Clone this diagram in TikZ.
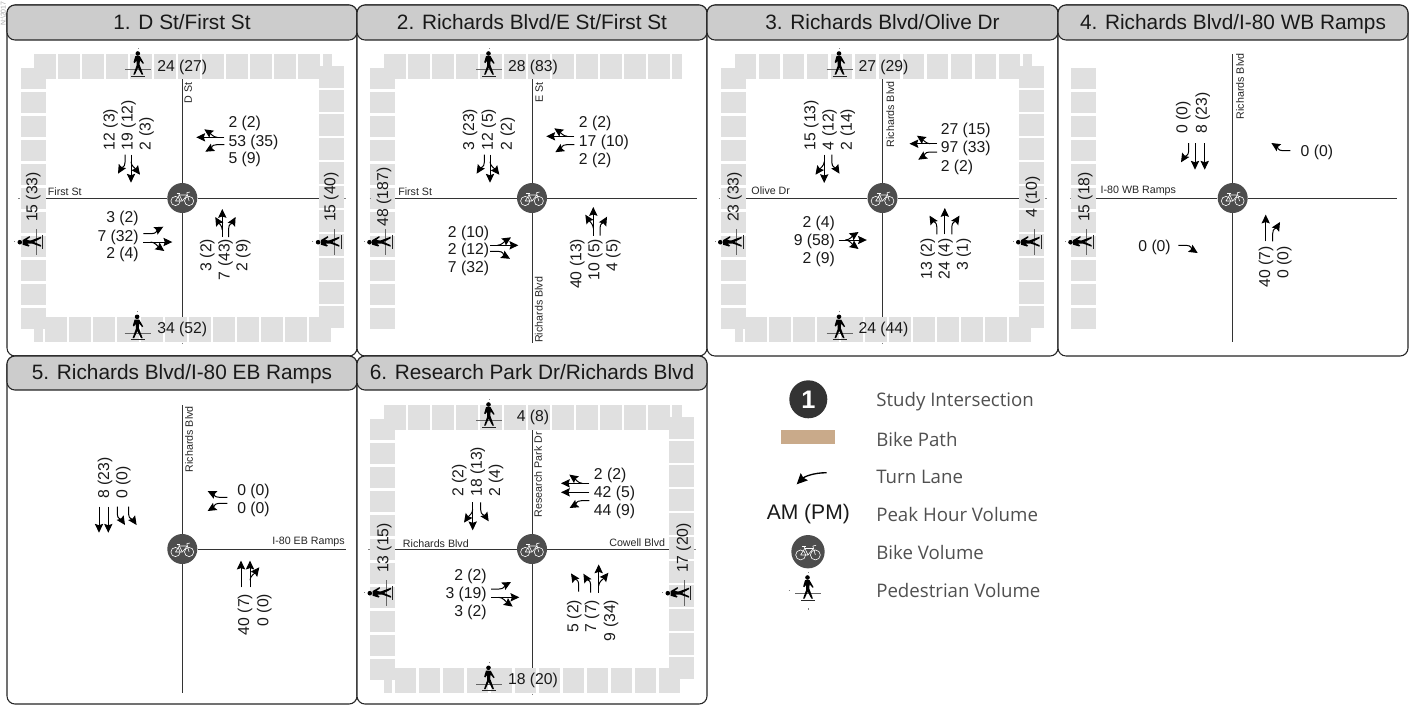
\documentclass[tikz,border=0pt]{standalone}
\usepackage{fontspec}
\setmainfont{Liberation Sans}
\newfontfamily\legfont{Open Sans}
\usetikzlibrary{arrows.meta}
\definecolor{hdr}{HTML}{CCCCCC}
\definecolor{tile}{HTML}{E0E0E0}
\definecolor{bikec}{HTML}{4D4D4D}
\definecolor{pathc}{HTML}{C9AA8A}
\definecolor{legc}{HTML}{505050}
\newcount\nodeno
\tikzset{
 x=0.75pt,y=-0.75pt,
 box/.style={draw=black!85,line width=0.8pt,rounded corners=6pt},
 headbox/.style={box,fill=hdr},
 title/.style={inner sep=0pt,font=\fontsize{15.6}{17}\selectfont,text=black!90,text height=11pt,text depth=0.6pt},
 vol/.style={inner sep=0pt,font=\fontsize{11.8}{13}\selectfont,text=black!90},
 road/.style={inner sep=0pt,font=\fontsize{8}{9}\selectfont,text=black!85},
 vl/.style={vol,anchor=west},
 vr/.style={vol,anchor=east},
 vu/.style={vol,rotate=90,anchor=west},
 vd/.style={vol,rotate=90,anchor=east},
 vc/.style={vol,rotate=90},
 rl/.style={road,anchor=west},
 re/.style={road,anchor=east},
 ru/.style={road,rotate=90,anchor=west},
 rd/.style={road,rotate=90,anchor=east},
 ar/.style={line width=0.75pt,black,-{Stealth[length=6.6pt,width=6.2pt,inset=1pt]}},
 rdl/.style={line width=0.75pt,black!80},
 tck/.style={line width=0.4pt,black!50},
 biked/.style={circle,fill=bikec,inner sep=0pt,minimum size=22.5pt},
 leg/.style={anchor=west,inner sep=0pt,font=\legfont\fontsize{14}{16}\selectfont,text=legc},
}
\newcommand\Tx[4]{\global\advance\nodeno 1 \node[#1] (t\the\nodeno) at (#2,#3) {#4};}
\newcommand\LnS[4]{\draw[ar,shift={(#1,#2)},rotate=#3] (0,0) -- (0,#4);}
\newcommand\LnC[5]{\draw[ar,shift={(#1,#2)},rotate=#3] (0,0) -- (0,#5*0.4) .. controls (0,#5*0.68) and (#4*0.5,#5*0.68) .. (#4,#5);}
\newcommand\LnB[5]{\draw[ar,shift={(#1,#2)},rotate=#3] (0,#5*0.35) .. controls (0,#5*0.55) and (#4*0.5,#5*0.7) .. (#4,#5);}
\newcommand\panelbox[6]{%
 \draw[box,fill=white] (#1,#3) rectangle (#2,#5);
 \draw[headbox] (#1,#3) rectangle (#2,#4);
 \global\advance\nodeno 1
 \node[title] (t\the\nodeno) at ({(#1+#2)/2},{(#3+#4)/2}) {#6};}
\newcommand\tilesT{\fill[tile] (-148,-144.3) rectangle (-126.3,-119.3);
 \foreach \i in {1,...,11}{\fill[tile] ({-148+24*\i},-144.3) rectangle ({-126.3+24*\i},-119.3);}
 \fill[tile] (140.3,-144.3) rectangle (149.5,-119.3);}
\newcommand\tilesB{\foreach \i in {0,...,11}{\fill[tile] ({-137.3+24*\i},118.7) rectangle ({-115.6+24*\i},144);}
 \fill[tile] (-148,130) rectangle (-139.7,144);}
\newcommand\tilesL{\foreach \i in {0,...,10}{\fill[tile] (-161.7,{-130.3+24*\i}) rectangle (-136.7,{-108.6+24*\i});}}
\newcommand\tilesR{\foreach \i in {0,...,10}{\fill[tile] (136.7,{-131.7+24*\i}) rectangle (161.7,{-110+24*\i});}}
\newcommand\bikeglyph[1]{\begin{scope}[scale=#1,line width=0.45pt,white]
 \draw (-6.8,3) circle[radius=4.6];
 \draw (6.8,3) circle[radius=4.6];
 \draw[line join=round] (-6.8,3) -- (-3,-3) -- (5,-3) -- (0,3) -- cycle;
 \draw (-3.8,-4.8) -- (0,3);
 \draw (-5.6,-4.8) -- (-2,-4.8);
 \draw (6.8,3) -- (4.5,-5.2) -- (7.5,-6);
\end{scope}}
\newcommand\pedicon[3]{\begin{scope}[shift={(#1,#2)},rotate=#3]
 \draw[line width=0.5pt,black!60] (-13,0) -- (13,0);
 \draw[line width=0.5pt,black!85] (-7,6.6) -- (7,6.6);
 \draw[tck] (0,-21) -- (0,-22);
 \fill[black] (-0.5,-16.2) circle[radius=2.3];
 \fill[black] (-3,-13.5) -- (1.6,-13.5) -- (5.6,-6.5) -- (4.5,-6) -- (1.6,-9.5) -- (1.3,-5) -- (5,5) -- (3.4,5) -- (-0.3,-2) -- (-3.4,5) -- (-5,5) -- (-1.8,-4) -- (-1.8,-9) -- (-3.8,-6.5) -- (-4.8,-7.5) -- cycle;
\end{scope}}
\newcommand\hub[1]{\node[biked] (#1) at (0,0) {}; \bikeglyph{1}}
\begin{document}
\begin{tikzpicture}
\useasboundingbox (0,0) rectangle (1416,704);
\fill[white] (0,0) rectangle (1416,704);
\Tx{font=\fontsize{5.2}{6}\selectfont,text=black!35,rotate=90,anchor=west,inner sep=0pt}{3.2}{26}{N:\textbackslash 2017}
\panelbox{7}{357}{5}{40}{356}{1. D St/First St}
\panelbox{357}{707}{5}{40}{356}{2. Richards Blvd/E St/First St}
\panelbox{707}{1058}{5}{40}{356}{3. Richards Blvd/Olive Dr}
\panelbox{1058}{1408}{5}{40}{356}{4. Richards Blvd/I-80 WB Ramps}
\panelbox{7}{357}{356}{390}{704}{5. Richards Blvd/I-80 EB Ramps}
\panelbox{357}{707}{356}{390}{704}{6. Research Park Dr/Richards Blvd}

% ---------- 1
\begin{scope}[shift={(182.3,198)}]
\tilesT \tilesB \tilesL \tilesR
\hub{bA}
\coordinate (nA) at (0,-119.3); \coordinate (sA) at (0,118.7); \coordinate (wA) at (-136.7,0); \coordinate (eA) at (136.7,0);
\draw[rdl] (bA) -- (nA); \draw[rdl] (bA) -- (sA); \draw[rdl] (bA) -- (wA); \draw[rdl] (bA) -- (eA);
\draw[tck] (-164,0) -- (-162.5,0); \draw[tck] (162,0) -- (164,0); \draw[tck] (0,144.5) -- (0,146);
\Tx{rd}{6}{-116}{D St} \Tx{rl}{-134.7}{-6}{First St}
\pedicon{-44}{-128.3}{0} \Tx{vol}{0}{-131}{24 (27)}
\pedicon{-44.7}{135}{0} \Tx{vol}{0}{131}{34 (52)}
\pedicon{-146.3}{43.7}{90} \Tx{vc}{-149}{-1}{15 (33)}
\pedicon{152}{43.7}{90} \Tx{vc}{149}{-1}{15 (40)}
\Tx{vu}{-71.7}{-47.7}{12 (3)} \Tx{vu}{-53.7}{-47.7}{19 (12)} \Tx{vu}{-35.7}{-47.7}{2 (3)}
\LnC{-57.3}{-43.3}{0}{-7}{19} \LnS{-51.3}{-43.3}{0}{28} \LnB{-51.3}{-43.3}{0}{9}{20}
\Tx{vl}{46}{-74.3}{2 (2)} \Tx{vl}{46}{-56}{53 (35)} \Tx{vl}{46}{-38.3}{5 (9)}
\LnS{42}{-60.7}{270}{28} \LnB{42}{-60.7}{270}{-8}{20} \LnC{42}{-53.3}{270}{7}{19}
\Tx{vr}{-43.3}{20.7}{3 (2)} \Tx{vr}{-43.3}{39}{7 (32)} \Tx{vr}{-43.3}{56.7}{2 (4)}
\LnC{-39}{35.7}{90}{7}{20} \LnS{-39}{44}{90}{29} \LnB{-39}{44}{90}{-9}{21}
\Tx{vd}{25}{40.7}{3 (2)} \Tx{vd}{43.3}{40.7}{7 (43)} \Tx{vd}{61}{40.7}{2 (9)}
\LnS{40}{39}{180}{28} \LnB{40}{39}{180}{7}{20} \LnC{46.3}{39}{180}{-7}{20}
\end{scope}

% ---------- 2
\begin{scope}[shift={(532,198)}]
\tilesT \tilesL
\hub{bB}
\coordinate (nB) at (0,-119.3); \coordinate (sB) at (0,145); \coordinate (wB) at (-136.7,0); \coordinate (eB) at (164.7,0);
\draw[rdl] (bB) -- (nB); \draw[rdl] (bB) -- (sB); \draw[rdl] (bB) -- (wB); \draw[rdl] (bB) -- (eB);
\draw[tck] (-162.5,0) -- (-161.7,0);
\Tx{rd}{7.3}{-116}{E St} \Tx{ru}{6.7}{145}{Richards Blvd} \Tx{rl}{-134}{-6}{First St}
\pedicon{-43}{-128.3}{0} \Tx{vol}{1}{-131}{28 (83)}
\pedicon{-146.3}{43.7}{90} \Tx{vc}{-148}{-1}{48 (187)}
\Tx{vu}{-62}{-47.7}{3 (23)} \Tx{vu}{-43.3}{-47.7}{12 (5)} \Tx{vu}{-24.3}{-47.7}{2 (2)}
\LnC{-47.7}{-43.3}{0}{-7.7}{19} \LnS{-42}{-43.3}{0}{28} \LnB{-42}{-43.3}{0}{9.3}{20}
\Tx{vl}{46.7}{-74.3}{2 (2)} \Tx{vl}{46.7}{-56}{17 (10)} \Tx{vl}{46.7}{-37.7}{2 (2)}
\LnS{42.3}{-61.7}{270}{28} \LnB{42.3}{-61.7}{270}{-8}{20} \LnC{42.3}{-53.3}{270}{7.5}{19}
\Tx{vr}{-42.7}{35}{2 (10)} \Tx{vr}{-42.7}{52.7}{2 (12)} \Tx{vr}{-42.7}{70.7}{7 (32)}
\LnS{-42}{47.3}{90}{28.3} \LnB{-42}{47.3}{90}{8}{21} \LnC{-42}{53.3}{90}{-7.5}{20}
\Tx{vd}{45.3}{40.7}{40 (13)} \Tx{vd}{63.3}{40.7}{10 (5)} \Tx{vd}{81.3}{40.7}{4 (5)}
\LnS{61.3}{37.7}{180}{28.7} \LnB{61.3}{37.7}{180}{8}{21} \LnC{68}{37.7}{180}{-7}{19}
\end{scope}

% ---------- 3
\begin{scope}[shift={(882.5,198)}]
\tilesT \tilesB \tilesL \tilesR
\hub{bC}
\coordinate (nC) at (0,-119.3); \coordinate (sC) at (0,118.7); \coordinate (wC) at (-136.7,0); \coordinate (eC) at (136.7,0);
\draw[rdl] (bC) -- (nC); \draw[rdl] (bC) -- (sC); \draw[rdl] (bC) -- (wC); \draw[rdl] (bC) -- (eC);
\draw[tck] (-164,0) -- (-162.5,0); \draw[tck] (162,0) -- (164,0); \draw[tck] (0,144.5) -- (0,146);
\Tx{rd}{7.7}{-117}{Richards Blvd} \Tx{rl}{-131.3}{-7.3}{Olive Dr}
\pedicon{-43}{-128.3}{0} \Tx{vol}{1}{-131}{27 (29)}
\pedicon{-43}{135}{0} \Tx{vol}{1}{131}{24 (44)}
\pedicon{-146}{43.7}{90} \Tx{vc}{-148}{-1}{23 (33)}
\pedicon{152}{43.7}{90} \Tx{vc}{150.3}{-1}{4 (10)}
\Tx{vu}{-71.3}{-47.7}{15 (13)} \Tx{vu}{-53}{-47.7}{4 (12)} \Tx{vu}{-34.7}{-47.7}{2 (14)}
\LnS{-58.3}{-43.3}{0}{28.3} \LnB{-58.3}{-43.3}{0}{-8.7}{20} \LnC{-50.7}{-43.3}{0}{7.7}{19}
\Tx{vl}{58}{-67.3}{27 (15)} \Tx{vl}{58}{-49.3}{97 (33)} \Tx{vl}{58}{-31}{2 (2)}
\LnS{54.7}{-54.3}{270}{27.7} \LnB{54.7}{-54.3}{270}{-8}{20.3} \LnC{54.7}{-46}{270}{7.7}{19}
\Tx{vr}{-47.3}{25}{2 (4)} \Tx{vr}{-47.3}{43.3}{9 (58)} \Tx{vr}{-47.3}{61}{2 (9)}
\LnS{-44}{42}{90}{28.3} \LnB{-44}{42}{90}{8}{20} \LnB{-44}{42}{90}{-9}{20}
\Tx{vd}{45.3}{40}{13 (2)} \Tx{vd}{63}{40}{24 (4)} \Tx{vd}{81.3}{40}{3 (1)}
\LnC{54.3}{36.3}{180}{7.3}{18.7} \LnS{62.3}{36.3}{180}{26.3} \LnC{69.3}{36.3}{180}{-7.7}{18.7}
\end{scope}

% ---------- 4
\begin{scope}[shift={(1232.7,198)}]
\tilesL
\hub{bD}
\coordinate (nD) at (0,-144.3); \coordinate (sD) at (0,144.3); \coordinate (wD) at (-136.7,0); \coordinate (eD) at (164.7,0);
\draw[rdl] (bD) -- (nD); \draw[rdl] (bD) -- (sD); \draw[rdl] (bD) -- (wD); \draw[rdl] (bD) -- (eD);
\draw[tck] (-162.5,0) -- (-161.7,0);
\Tx{rd}{7.3}{-145}{Richards Blvd} \Tx{rl}{-132.3}{-7}{I-80 WB Ramps}
\pedicon{-146}{43.7}{90} \Tx{vc}{-147.3}{-1}{15 (18)}
\Tx{vu}{-49.3}{-64}{0 (0)} \Tx{vu}{-30}{-64}{8 (23)}
\LnC{-44}{-55}{0}{-7.7}{19.3} \LnS{-37.7}{-55}{0}{26.7} \LnS{-28}{-55}{0}{26.7}
\LnC{57.7}{-47.3}{270}{-7.7}{19} \Tx{vl}{67.7}{-46}{0 (0)}
\Tx{vr}{-61.7}{49}{0 (0)} \LnC{-54.3}{47.3}{90}{-7.7}{19.3}
\LnS{33}{43.3}{180}{26.7} \LnC{40}{43.3}{180}{-7.3}{19.3}
\Tx{vd}{33.3}{48.3}{40 (7)} \Tx{vd}{51.7}{48.3}{0 (0)}
\end{scope}

% ---------- 5
\begin{scope}[shift={(182.3,549)}]
\hub{bE}
\coordinate (nE) at (0,-143.7); \coordinate (sE) at (0,144.3); \coordinate (eE) at (163.7,0);
\draw[rdl] (bE) -- (nE); \draw[rdl] (bE) -- (sE); \draw[rdl] (bE) -- (eE);
\Tx{rd}{6.7}{-143}{Richards Blvd} \Tx{re}{162.7}{-6.7}{I-80 EB Ramps}
\Tx{vu}{-77.3}{-50}{8 (23)} \Tx{vu}{-59}{-50}{0 (0)}
\LnS{-83.3}{-42.3}{0}{26} \LnS{-74}{-42.3}{0}{26} \LnC{-65}{-42.3}{0}{7.7}{18.3} \LnC{-53.7}{-42.3}{0}{8}{18.3}
\LnC{45}{-51.7}{270}{-6.3}{19.7} \LnC{45}{-45.7}{270}{7.7}{19.7}
\Tx{vl}{54.7}{-57.7}{0 (0)} \Tx{vl}{54.7}{-39.7}{0 (0)}
\LnS{58.7}{38.3}{180}{26.7} \LnS{67.7}{38.3}{180}{26.7} \LnB{67.7}{38.3}{180}{-9.3}{20}
\Tx{vd}{62.7}{44.7}{40 (7)} \Tx{vd}{82}{44.7}{0 (0)}
\end{scope}

% ---------- 6
\begin{scope}[shift={(532,549)}]
\tilesT \tilesB \tilesL \tilesR
\hub{bF}
\coordinate (nF) at (0,-119.3); \coordinate (sF) at (0,118.7); \coordinate (wF) at (-136.7,0); \coordinate (eF) at (136.7,0);
\draw[rdl] (bF) -- (nF); \draw[rdl] (bF) -- (sF); \draw[rdl] (bF) -- (wF); \draw[rdl] (bF) -- (eF);
\draw[tck] (-164,0) -- (-162.5,0); \draw[tck] (162,0) -- (164,0); \draw[tck] (0,144.5) -- (0,146);
\Tx{rd}{6}{-117}{Research Park Dr} \Tx{rl}{-129.3}{-5.7}{Richards Blvd} \Tx{re}{133.3}{-6.7}{Cowell Blvd}
\pedicon{-43}{-128.3}{0} \Tx{vol}{1}{-132}{4 (8)}
\pedicon{-43}{135}{0} \Tx{vol}{1}{131}{18 (20)}
\pedicon{-146}{43.7}{90} \Tx{vc}{-147.7}{-1}{13 (15)}
\pedicon{152}{43.7}{90} \Tx{vc}{151.7}{-1}{17 (20)}
\Tx{vu}{-72.7}{-52}{2 (2)} \Tx{vu}{-54.3}{-52}{18 (13)} \Tx{vu}{-36}{-52}{2 (4)}
\LnS{-59.3}{-46.7}{0}{28} \LnB{-59.3}{-46.7}{0}{-8.7}{20.3} \LnC{-51.3}{-46.7}{0}{8}{19}
\Tx{vl}{61.7}{-74}{2 (2)} \Tx{vl}{61.7}{-55.7}{42 (5)} \Tx{vl}{61.7}{-38}{44 (9)}
\LnS{57.3}{-65.7}{270}{28.3} \LnB{57.3}{-65.7}{270}{-8.7}{20} \LnS{57.3}{-56.7}{270}{28.3} \LnC{57.3}{-48.3}{270}{7.3}{19.7}
\Tx{vr}{-45}{27.7}{2 (2)} \Tx{vr}{-45}{45.3}{3 (19)} \Tx{vr}{-45}{63.3}{3 (2)}
\LnC{-41}{40}{90}{7}{20} \LnS{-41}{48.3}{90}{28.3} \LnB{-41}{48.3}{90}{-9.3}{21.7}
\Tx{vd}{42.3}{50.7}{5 (2)} \Tx{vd}{60}{50.7}{7 (7)} \Tx{vd}{79}{50.7}{9 (34)}
\LnC{46.7}{42.7}{180}{7.7}{18.3} \LnC{58.7}{43.7}{180}{7.3}{19} \LnS{66.7}{43.7}{180}{28.3} \LnB{66.7}{43.7}{180}{-9.7}{20}
\end{scope}

% ---------- legend
\node[circle,fill=black!80,inner sep=0pt,minimum size=28.5pt,text=white,font=\fontsize{19}{20}\bfseries\selectfont] (lg1) at (808.3,399.3) {1};
\fill[pathc] (781,430) rectangle (835,444);
\coordinate (lgA) at (826.7,472.7); \coordinate (lgB) at (796.7,484.3);
\draw[line width=1pt,black,-{Stealth[length=8pt,width=7.5pt,inset=1pt]}] (lgA) .. controls (813,472.7) and (804,477) .. (lgB);
\Tx{inner sep=0pt,font=\fontsize{15.8}{17}\selectfont,text=black!90}{808.3}{514}{AM (PM)}
\begin{scope}[shift={(808,551.7)}]
\node[biked,minimum size=25pt] (lgbike) at (0,0) {};
\bikeglyph{1.08}
\end{scope}
\pedicon{808}{593.7}{0}
\draw[tck] (788.5,590.7) -- (790,590.7); \draw[tck] (808.3,608) -- (808.3,609.5);
\Tx{leg}{876}{401.7}{Study Intersection}
\Tx{leg}{876}{439.3}{Bike Path}
\Tx{leg}{876}{476.7}{Turn Lane}
\Tx{leg}{876}{514}{Peak Hour Volume}
\Tx{leg}{876}{552}{Bike Volume}
\Tx{leg}{876}{590.7}{Pedestrian Volume}
\end{tikzpicture}
\end{document}
